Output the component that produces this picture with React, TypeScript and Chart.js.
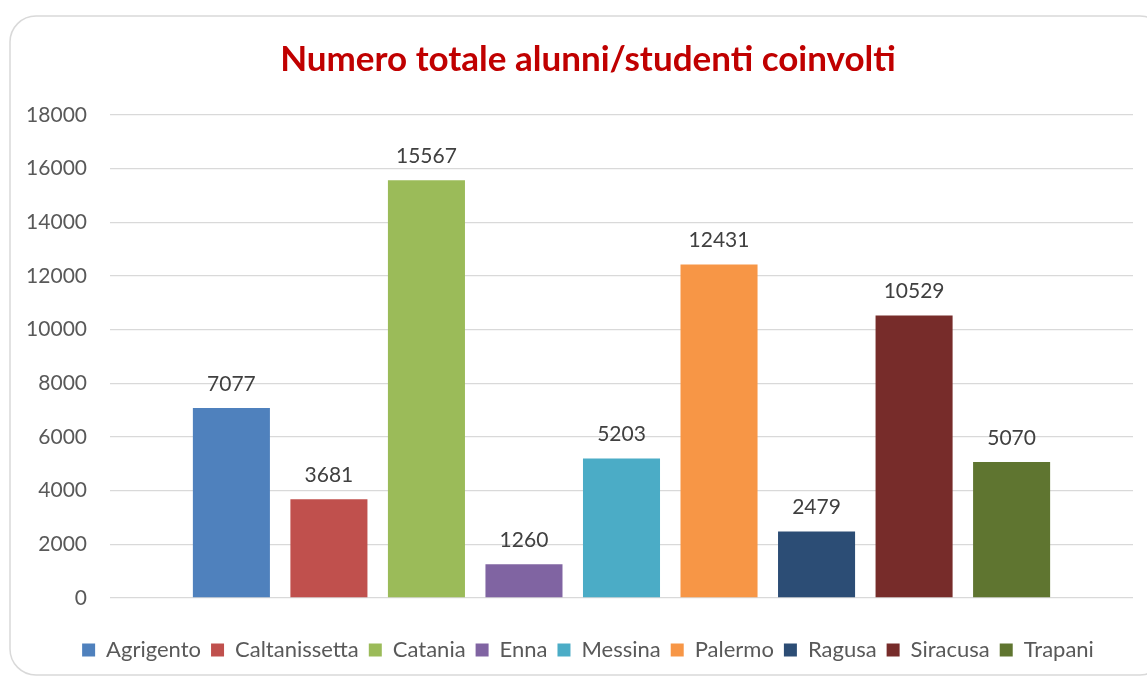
import React, { useEffect, useRef } from "react";
import { Chart, registerables } from "chart.js";

Chart.register(...registerables);

const titleText = "Numero totale alunni/studenti coinvolti";
const categories = ["Totale"];
const provinces = ["Agrigento", "Caltanissetta", "Catania", "Enna", "Messina", "Palermo", "Ragusa", "Siracusa", "Trapani"];
const values = [7077, 3681, 15567, 1260, 5203, 12431, 2479, 10529, 5070];
const colors = ["#4F81BD", "#C0504D", "#9BBB59", "#8064A2", "#4BACC6", "#F79646", "#2C4D75", "#772C2A", "#5F7530"];
const yTicks = [0, 2000, 4000, 6000, 8000, 10000, 12000, 14000, 16000, 18000];

const FONT = "Lato, 'Noto Sans', sans-serif";

const cardPlugin = {
  id: "card",
  beforeDraw(chart: any) {
    const ctx = chart.ctx;
    ctx.save();
    ctx.fillStyle = "#ffffff";
    ctx.fillRect(0, 0, chart.width, chart.height);
    ctx.beginPath();
    ctx.roundRect(10, 16, 1156, 659, 26);
    ctx.strokeStyle = "#d9d9d9";
    ctx.lineWidth = 1.5;
    ctx.stroke();
    ctx.restore();
  },
};

const labelPlugin = {
  id: "valueLabels",
  afterDatasetsDraw(chart: any) {
    const ctx = chart.ctx;
    ctx.save();
    ctx.font = `21px ${FONT}`;
    ctx.fillStyle = "#404040";
    ctx.textAlign = "center";
    ctx.textBaseline = "middle";
    chart.data.datasets.forEach((ds: any, i: number) => {
      const meta = chart.getDatasetMeta(i);
      meta.data.forEach((bar: any, j: number) => {
        ctx.fillText(String(ds.data[j]), bar.x, bar.y - 24);
      });
    });
    ctx.restore();
  },
};

export default function App() {
  const ref = useRef<HTMLCanvasElement>(null);
  useEffect(() => {
    if (!ref.current) return;
    const chart = new Chart(ref.current, {
      type: "bar",
      data: {
        labels: categories,
        datasets: provinces.map((p, i) => ({
          label: p,
          data: [values[i]],
          backgroundColor: colors[i],
          borderWidth: 0,
          categoryPercentage: 0.858,
          barPercentage: 0.79,
        })),
      },
      options: {
        animation: false,
        responsive: false,
        layout: { padding: { left: 0, right: 0, top: 0, bottom: 6 } },
        plugins: {
          title: {
            display: true,
            text: titleText,
            color: "#C00000",
            font: { family: FONT, size: 35, weight: "bold" },
            padding: { top: 39, bottom: 34 },
          },
          legend: {
            position: "bottom",
            labels: {
              boxWidth: 13,
              boxHeight: 13,
              padding: 10,
              color: "#595959",
              font: { family: FONT, size: 22 },
            },
          },
          tooltip: { enabled: false },
        },
        scales: {
          x: {
            display: true,
            grid: { display: false },
            border: { display: false },
            ticks: { display: false },
            afterFit: (s: any) => { s.height = 31; },
          },
          y: {
            min: 0,
            max: 18000,
            afterFit: (s: any) => { s.width = 110; },
            afterBuildTicks: (s: any) => { s.ticks = yTicks.map((v) => ({ value: v })); },
            grid: { color: "#d9d9d9", lineWidth: 1.3, drawTicks: false },
            border: { display: false },
            ticks: {
              padding: 23,
              color: "#595959",
              font: { family: FONT, size: 21 },
              callback: (v: any) => String(v),
            },
          },
          y2: {
            position: "right",
            display: true,
            grid: { display: false },
            border: { display: false },
            ticks: { display: false },
            afterFit: (s: any) => { s.width = 43; },
          },
        },
      },
      plugins: [cardPlugin, labelPlugin],
    });
    return () => chart.destroy();
  }, []);
  return (
    <div style={{ position: "fixed", left: 0, top: 0, width: 1147, height: 677, overflow: "hidden", background: "#fff" }}>
      <canvas ref={ref} width={1176} height={677} style={{ display: "block", width: 1176, height: 677 }} />
    </div>
  );
}
